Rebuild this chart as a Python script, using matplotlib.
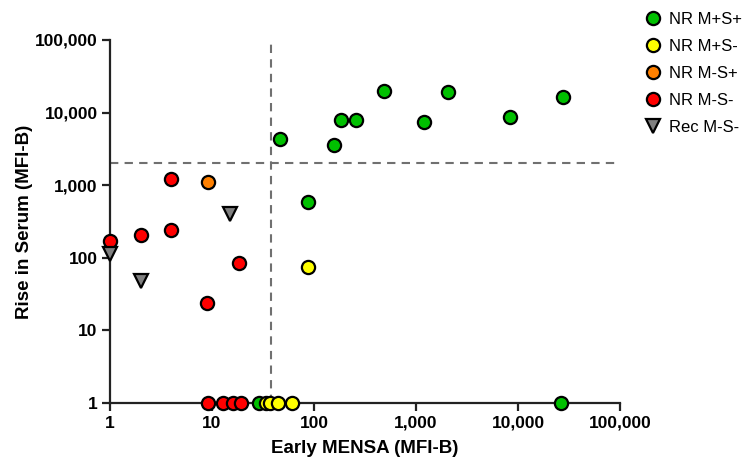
import matplotlib.pyplot as plt
from matplotlib.lines import Line2D

# Data (x: Early MENSA, y: Rise in Serum)
nr_mp_sp_x = [46, 88, 158, 183, 258, 490, 1200, 2050, 8350, 27800, 29, 26500]
nr_mp_sp_y = [4330, 590, 3600, 8000, 7900, 19600, 7400, 19000, 8600, 16600, 1, 1]

nr_mp_sm_x = [88, 34, 37, 44, 61]
nr_mp_sm_y = [75, 1, 1, 1, 1]

nr_mm_sp_x = [9.1]
nr_mm_sp_y = [1090]

nr_mm_sm_x = [1, 2, 4, 4, 18.3, 9, 9.2, 12.9, 16.2, 19.2]
nr_mm_sm_y = [170, 205, 1230, 245, 86, 24, 1, 1, 1, 1]

rec_mm_sm_x = [1, 2, 15.1]
rec_mm_sm_y = [113, 48, 400]

cutoff_x = 38
cutoff_y = 2000

ticks = [1, 10, 100, 1000, 10000, 100000]
tick_labels = ["1", "10", "100", "1,000", "10,000", "100,000"]

plt.rcParams['font.family'] = ['Liberation Sans', 'DejaVu Sans']

fig = plt.figure(figsize=(7.5, 4.59), dpi=100)
ax = fig.add_axes([0.1467, 0.122, 0.68, 0.791])
ax.set_xscale('log')
ax.set_yscale('log')
ax.set_xlim(1, 100000)
ax.set_ylim(1, 100000)

# cutoff lines
ax.plot([cutoff_x, cutoff_x], [1, 100000], ls=(0, (4, 3)), color='#707070', lw=1.5, zorder=1)
ax.plot([1, 100000], [cutoff_y, cutoff_y], ls=(0, (4, 3)), color='#707070', lw=1.5, zorder=1)

ms = 9.5
mew = 1.6
series = [
    (nr_mp_sp_x, nr_mp_sp_y, 'o', '#00c000', 'NR M+S+'),
    (nr_mp_sm_x, nr_mp_sm_y, 'o', '#ffff00', 'NR M+S-'),
    (nr_mm_sp_x, nr_mm_sp_y, 'o', '#ff8000', 'NR M-S+'),
    (nr_mm_sm_x, nr_mm_sm_y, 'o', '#ff0000', 'NR M-S-'),
    (rec_mm_sm_x, rec_mm_sm_y, 'v', '#808080', 'Rec M-S-'),
]
handles = []
for x, y, m, c, lab in series:
    ax.plot(x, y, ls='none', marker=m, ms=ms, mfc=c, mec='black', mew=mew,
            clip_on=False, zorder=3)
    handles.append(Line2D([], [], ls='none', marker=m, ms=ms, mfc=c, mec='black',
                          mew=mew, label=lab))

ax.set_xticks(ticks)
ax.set_xticklabels(tick_labels)
ax.set_yticks(ticks)
ax.set_yticklabels(tick_labels)
ax.minorticks_off()
for lbl in ax.get_xticklabels() + ax.get_yticklabels():
    lbl.set_fontweight('bold')
    lbl.set_fontsize(12.5)
ax.tick_params(direction='out', length=6, width=1.6, color='#222222', pad=3)

for s in ['top', 'right']:
    ax.spines[s].set_visible(False)
for s in ['left', 'bottom']:
    ax.spines[s].set_linewidth(1.6)
    ax.spines[s].set_color('#222222')

ax.set_xlabel("Early MENSA (MFI-B)", fontsize=13.5, fontweight='bold', labelpad=7)
ax.set_ylabel("Rise in Serum (MFI-B)", fontsize=13.5, fontweight='bold', labelpad=1)

fig.legend(handles=handles, loc='upper left', bbox_to_anchor=(0.842, 1.0),
           frameon=False, fontsize=12, handletextpad=0.35, labelspacing=0.72,
           handlelength=1.2, borderaxespad=0.3)

fig.savefig("out.png", dpi=100)
